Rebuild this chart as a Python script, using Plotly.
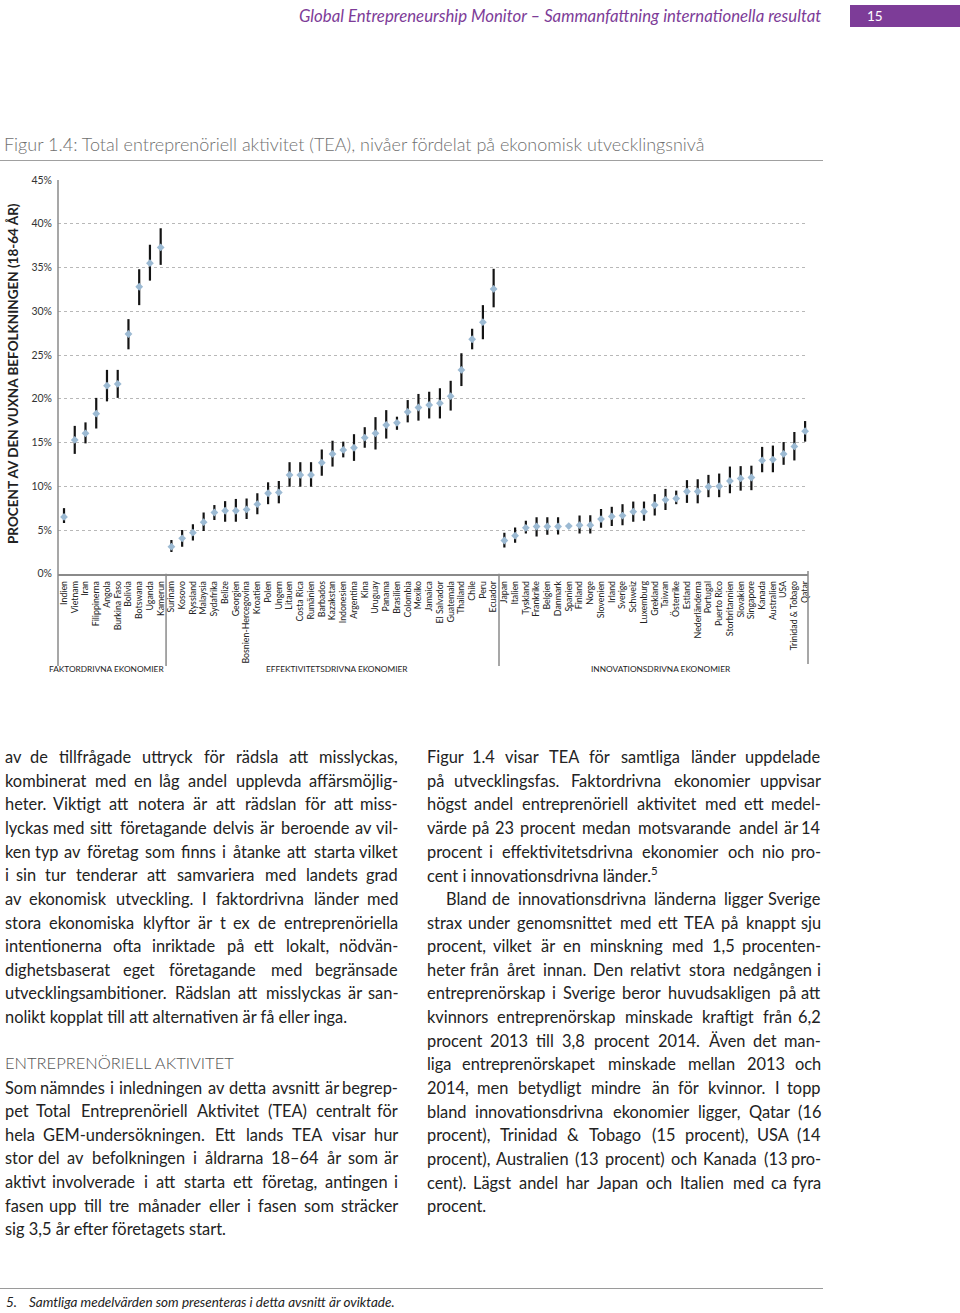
import plotly.graph_objects as go

W, H = 960, 1313

# ---------------- data ----------------
factor_countries = ["Indien", "Vietnam", "Iran", "Filippinerna", "Angola", "Burkina Faso",
                    "Bolivia", "Botswana", "Uganda", "Kamerun"]
factor_tea = [6.5, 15.3, 16.05, 18.3, 21.5, 21.7, 27.4, 32.8, 35.5, 37.3]
factor_hi = [7.5, 16.9, 17.3, 20.1, 23.3, 23.3, 29.1, 34.8, 37.6, 39.5]
factor_lo = [5.8, 13.7, 14.9, 16.6, 19.7, 20.1, 25.65, 30.7, 33.5, 35.3]

eff_countries = ["Surinam", "Kosovo", "Ryssland", "Malaysia", "Sydafrika", "Belize", "Georgien",
                 "Bosnien-Hercegovina", "Kroatien", "Polen", "Ungern", "Litauen", "Costa Rica",
                 "Rumänien", "Barbados", "Kazakstan", "Indonesien", "Argentina", "Kina", "Uruguay",
                 "Panama", "Brasilien", "Colombia", "Mexiko", "Jamaica", "El Salvador", "Guatemala",
                 "Thailand", "Chile", "Peru", "Ecuador"]
eff_tea = [3.1, 4.05, 4.7, 5.9, 7.0, 7.2, 7.2, 7.35, 7.95, 9.2, 9.3, 11.3, 11.3, 11.3, 12.7,
           13.7, 14.15, 14.4, 15.55, 16.05, 17.0, 17.25, 18.5, 19.0, 19.3, 19.5, 20.3, 23.3,
           26.8, 28.75, 32.55]
eff_hi = [3.85, 5.0, 5.65, 7.0, 7.85, 8.3, 8.55, 8.6, 9.2, 10.45, 10.6, 12.75, 12.75, 12.75, 14.2,
          15.2, 15.1, 15.95, 16.75, 17.9, 18.7, 17.95, 19.85, 20.55, 20.8, 21.2, 22.05, 25.2,
          28.0, 30.7, 34.85]
eff_lo = [2.5, 3.1, 3.8, 4.9, 6.15, 5.95, 5.95, 6.25, 6.8, 7.95, 8.05, 9.95, 9.95, 9.95, 11.2,
          12.25, 13.3, 12.9, 14.4, 14.2, 15.45, 16.45, 17.3, 17.5, 17.75, 17.75, 18.65, 21.45,
          25.65, 26.8, 30.45]

inn_countries = ["Japan", "Italien", "Tyskland", "Frankrike", "Belgien", "Danmark", "Spanien",
                 "Finland", "Norge", "Slovenien", "Irland", "Sverige", "Schweiz", "Luxemburg",
                 "Grekland", "Taiwan", "Österrike", "Estland", "Nederländerna", "Portugal",
                 "Puerto Rico", "Storbritannien", "Slovakien", "Singapore", "Kanada", "Australien",
                 "USA", "Trinidad & Tobago", "Qatar"]
inn_tea = [3.8, 4.35, 5.25, 5.4, 5.4, 5.4, 5.45, 5.55, 5.55, 6.25, 6.55, 6.65, 7.1, 7.1, 7.85,
           8.45, 8.6, 9.4, 9.4, 9.95, 10.0, 10.6, 10.9, 11.0, 12.95, 13.05, 13.7, 14.55, 16.3]
inn_hi = [4.7, 5.3, 6.05, 6.45, 6.45, 6.45, 5.65, 6.65, 6.7, 7.4, 7.65, 7.95, 8.25, 8.25, 9.1,
          9.7, 9.5, 10.7, 10.8, 11.3, 11.45, 12.25, 12.3, 12.35, 14.5, 14.65, 15.05, 16.2, 17.45]
inn_lo = [3.0, 3.55, 4.6, 4.25, 4.45, 4.5, 5.2, 4.6, 4.6, 5.25, 5.45, 5.55, 5.95, 6.05, 6.65,
          7.3, 7.95, 8.1, 8.05, 8.75, 8.75, 9.2, 9.5, 9.55, 11.6, 11.6, 12.45, 12.95, 15.1]

y_ticks = [0, 5, 10, 15, 20, 25, 30, 35, 40, 45]
y_ticklabels = [f"{v}%" for v in y_ticks]

group_labels = ["FAKTORDRIVNA EKONOMIER", "EFFEKTIVITETSDRIVNA EKONOMIER", "INNOVATIONSDRIVNA EKONOMIER"]

countries = factor_countries + eff_countries + inn_countries
tea = factor_tea + eff_tea + inn_tea
hi = factor_hi + eff_hi + inn_hi
lo = factor_lo + eff_lo + inn_lo

FONT = "Lato"


def py(p):
    return 1 - p / H


def pxx(p):
    return p / W


fig = go.Figure()
fig.add_trace(go.Scatter(
    x=countries, y=tea, mode="markers",
    marker=dict(symbol="diamond", size=6, color="#9cbad3", line=dict(width=0)),
    error_y=dict(type="data", symmetric=False,
                 array=[h - t for h, t in zip(hi, tea)],
                 arrayminus=[t - l for t, l in zip(tea, lo)],
                 color="#141414", thickness=2.2, width=0),
    showlegend=False, cliponaxis=False,
))

X_RANGE = [-0.56, 69.27]
fig.update_layout(
    width=W, height=H,
    margin=dict(l=0, r=0, t=0, b=0),
    paper_bgcolor="white", plot_bgcolor="white",
    font=dict(family=FONT, color="#222"),
    xaxis=dict(domain=[pxx(58), pxx(808)], type="category", range=X_RANGE,
               tickmode="array", tickvals=countries, ticktext=countries,
               tickangle=-90, tickfont=dict(size=8.8, color="#222", family=FONT),
               showgrid=False, zeroline=False, showline=True, linecolor="#8a8a8a", linewidth=1.5,
               ticks="", ticklabelstandoff=2, automargin=False, fixedrange=True),
    yaxis=dict(domain=[py(573.75), py(180)], range=[0, 45],
               tickmode="array", tickvals=y_ticks, ticktext=y_ticklabels,
               tickfont=dict(size=10.5, color="#333", family=FONT),
               showgrid=True, gridcolor="#b8b8b8", griddash="dot", gridwidth=1,
               zeroline=False, showline=False, ticks="", ticklabelstandoff=5,
               automargin=False, fixedrange=True),
)

shapes = []
line_col = "#8a8a8a"
shapes.append(dict(type="line", xref="paper", yref="paper", x0=pxx(58), x1=pxx(58),
                   y0=py(180), y1=py(666), line=dict(color=line_col, width=1.5)))
for xs in [9.5, 40.5]:
    shapes.append(dict(type="line", xref="x", yref="paper", x0=xs, x1=xs,
                       y0=py(573.75), y1=py(666), line=dict(color=line_col, width=1.5)))
shapes.append(dict(type="line", xref="paper", yref="paper", x0=pxx(808), x1=pxx(808),
                   y0=py(571), y1=py(664), line=dict(color=line_col, width=1.5)))
shapes.append(dict(type="line", xref="paper", yref="paper", x0=0, x1=pxx(823),
                   y0=py(160.5), y1=py(160.5), line=dict(color="#a0a0a0", width=1)))
shapes.append(dict(type="line", xref="paper", yref="paper", x0=0, x1=pxx(823),
                   y0=py(1288.5), y1=py(1288.5), line=dict(color="#9a9a9a", width=1)))
shapes.append(dict(type="rect", xref="paper", yref="paper", x0=pxx(850), x1=1,
                   y0=py(27), y1=py(5), fillcolor="#7d3c98", line=dict(width=0)))
fig.update_layout(shapes=shapes)

ann = []


def text(x, y, s, size=16, color="#222", anchor="left", style=None, weight=None):
    f = dict(size=size, color=color, family=FONT)
    if style:
        f["style"] = style
    if weight:
        f["weight"] = weight
    ann.append(dict(xref="paper", yref="paper", x=pxx(x), y=py(y), text=s, showarrow=False,
                    xanchor=anchor, yanchor="middle", align="left", font=f))


# approximate glyph advance widths (em) used only to space words for justified lines
CW = {}
for c, w in [("a", .51), ("b", .56), ("c", .46), ("d", .56), ("e", .52), ("f", .32), ("g", .51),
             ("h", .56), ("i", .24), ("j", .24), ("k", .5), ("l", .24), ("m", .84), ("n", .56),
             ("o", .56), ("p", .56), ("q", .56), ("r", .36), ("s", .43), ("t", .35), ("u", .56),
             ("v", .5), ("w", .76), ("x", .49), ("y", .5), ("z", .45), ("å", .51), ("ä", .51),
             ("ö", .56), ("A", .67), ("B", .62), ("C", .66), ("D", .73), ("E", .56), ("F", .54),
             ("G", .71), ("H", .74), ("I", .28), ("J", .39), ("K", .64), ("L", .5), ("M", .88),
             ("N", .74), ("O", .78), ("P", .59), ("Q", .78), ("R", .61), ("S", .52), ("T", .57),
             ("U", .71), ("V", .67), ("W", 1.0), ("X", .64), ("Y", .61), ("Z", .6), ("Ä", .67),
             ("Ö", .78), (".", .22), (",", .22), ("-", .34), ("(", .3), (")", .3), ("&", .67),
             ("–", .58), (":", .24)]:
    CW[c] = w


def est(word, size):
    return sum(CW.get(c, .58) for c in word) * size * 1.02


def justified(x0, x1, y, s, size):
    words = s.split(" ")
    ws = [est(w, size) for w in words]
    gap = (x1 - x0 - sum(ws)) / (len(words) - 1)
    x = x0
    for k, (w, wd) in enumerate(zip(words, ws)):
        if k == 0:
            text(x0, y, w, size=size, anchor="left")
        elif k == len(words) - 1:
            text(x1, y, w, size=size, anchor="right")
        else:
            text(x + wd / 2, y, w, size=size, anchor="center")
        x += wd + gap


# header
text(823, 15, "Global Entrepreneurship Monitor – Sammanfattning internationella resultat",
     size=16.8, color="#7d3c98", anchor="right", style="italic")
text(865, 16, "15", size=13.5, color="white")
# figure title
text(2, 144, "Figur 1.4: Total entreprenöriell aktivitet (TEA), nivåer fördelat på ekonomisk utvecklingsnivå",
     size=18, color="#707070", weight=300)
# y-axis title
ann.append(dict(xref="paper", yref="paper", x=pxx(13), y=py(374),
                text="<b>PROCENT AV DEN VUXNA BEFOLKNINGEN (18-64 ÅR)</b>",
                showarrow=False, textangle=-90, xanchor="center", yanchor="middle",
                font=dict(size=13.5, color="#222", family=FONT)))
for gx, g in zip([106.5, 337, 660.5], group_labels):
    text(gx, 669, g, size=8.3, color="#222", anchor="center")

# body text
left_lines = [
    "av de tillfrågade uttryck för rädsla att misslyckas,",
    "kombinerat med en låg andel upplevda affärsmöjlig-",
    "heter. Viktigt att notera är att rädslan för att miss-",
    "lyckas med sitt företagande delvis är beroende av vil-",
    "ken typ av företag som finns i åtanke att starta vilket",
    "i sin tur tenderar att samvariera med landets grad",
    "av ekonomisk utveckling. I faktordrivna länder med",
    "stora ekonomiska klyftor är t ex de entreprenöriella",
    "intentionerna ofta inriktade på ett lokalt, nödvän-",
    "dighetsbaserat eget företagande med begränsade",
    "utvecklingsambitioner. Rädslan att misslyckas är san-",
    "nolikt kopplat till att alternativen är få eller inga.",
]
left_lines2 = [
    "Som nämndes i inledningen av detta avsnitt är begrep-",
    "pet Total Entreprenöriell Aktivitet (TEA) centralt för",
    "hela GEM-undersökningen. Ett lands TEA visar hur",
    "stor del av befolkningen i åldrarna 18–64 år som är",
    "aktivt involverade i att starta ett företag, antingen i",
    "fasen upp till tre månader eller i fasen som sträcker",
    "sig 3,5 år efter företagets start.",
]
right_lines = [
    "Figur 1.4 visar TEA för samtliga länder uppdelade",
    "på utvecklingsfas. Faktordrivna ekonomier uppvisar",
    "högst andel entreprenöriell aktivitet med ett medel-",
    "värde på 23 procent medan motsvarande andel är 14",
    "procent i effektivitetsdrivna ekonomier och nio pro-",
    "cent i innovationsdrivna länder.<sup>5</sup>",
    "Bland de innovationsdrivna länderna ligger Sverige",
    "strax under genomsnittet med ett TEA på knappt sju",
    "procent, vilket är en minskning med 1,5 procenten-",
    "heter från året innan. Den relativt stora nedgången i",
    "entreprenörskap i Sverige beror huvudsakligen på att",
    "kvinnors entreprenörskap minskade kraftigt från 6,2",
    "procent 2013 till 3,8 procent 2014. Även det man-",
    "liga entreprenörskapet minskade mellan 2013 och",
    "2014, men betydligt mindre än för kvinnor. I topp",
    "bland innovationsdrivna ekonomier ligger, Qatar (16",
    "procent), Trinidad & Tobago (15 procent), USA (14",
    "procent), Australien (13 procent) och Kanada (13 pro-",
    "cent). Lägst andel har Japan och Italien med ca fyra",
    "procent.",
]
LH = 23.65
BODY = 16.4
LX0, LX1 = 3, 400
RX0, RX1 = 425, 823

for i, s in enumerate(left_lines):
    y = 756.5 + i * LH
    if i == len(left_lines) - 1:
        text(LX0, y, s, size=BODY)
    else:
        justified(LX0, LX1, y, s, BODY)
text(3, 1063, "ENTREPRENÖRIELL AKTIVITET", size=16.5, color="#555", weight=300)
for i, s in enumerate(left_lines2):
    y = 1087 + i * LH
    if i == len(left_lines2) - 1:
        text(LX0, y, s, size=BODY)
    else:
        justified(LX0, LX1, y, s, BODY)
for i, s in enumerate(right_lines):
    y = 756.5 + i * LH
    if i in (5, len(right_lines) - 1):
        text(RX0, y, s, size=BODY)
    elif i == 6:
        justified(444, RX1, y, s, BODY)
    else:
        justified(RX0, RX1, y, s, BODY)

text(4, 1302, "5.", size=13.5, style="italic")
text(27, 1302, "Samtliga medelvärden som presenteras i detta avsnitt är oviktade.", size=13.5,
     style="italic")

fig.update_layout(annotations=ann)
fig.write_html("out.html")
